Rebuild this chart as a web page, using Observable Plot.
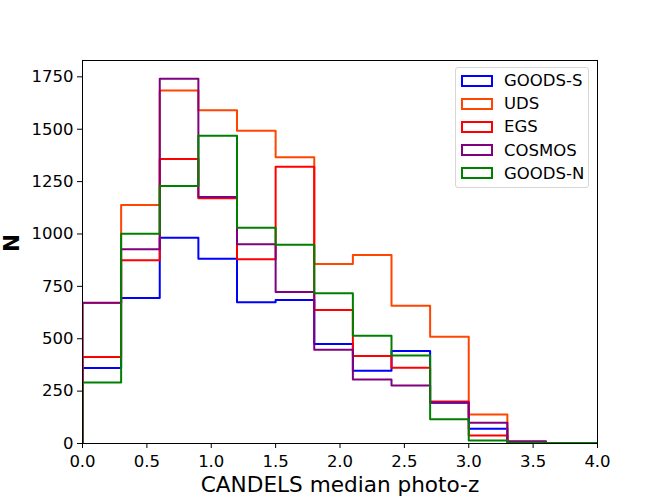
<!DOCTYPE html>
<html>
<head>
<meta charset="utf-8">
<script src="https://cdn.jsdelivr.net/npm/d3@7"></script>
<script src="https://cdn.jsdelivr.net/npm/@observablehq/plot@0.6"></script>
<style>
  html, body { margin: 0; padding: 0; background: #fff; }
  #wrap { position: relative; width: 664px; height: 498px; font-family: "DejaVu Sans", sans-serif; }
  #legend { position: absolute; left: 455px; top: 67px; width: 134px; height: 121px;
    border: 1px solid #d6d6d6; border-radius: 3px; background: rgba(255,255,255,0.8); box-sizing: border-box; }
  .item { position: absolute; left: 5px; height: 20px; display: flex; align-items: center;
    font-family: "DejaVu Sans", sans-serif; font-size: 16.5px; color: #000; white-space: nowrap; }
  .sw { display: inline-block; width: 32px; height: 12px; box-sizing: border-box; border: 2px solid; margin-right: 11px; }
</style>
</head>
<body>
<div id="wrap"></div>
<script>
const edges = [0, 0.3, 0.6, 0.9, 1.2, 1.5, 1.8, 2.1, 2.4, 2.7, 3.0, 3.3, 3.6, 3.9, 4.2];
const seriesNames = ["GOODS-S", "UDS", "EGS", "COSMOS", "GOODS-N"];
const seriesColors = ["#0000ff", "#ff4500", "#ff0000", "#800080", "#008000"];
const goodsS = [360, 695, 982, 882, 674, 685, 475, 347, 441, 194, 70, 4, 1, 0];
const uds    = [670, 1138, 1685, 1591, 1493, 1366, 857, 900, 658, 509, 138, 8, 1, 0];
const egs    = [413, 875, 1358, 1170, 879, 1321, 637, 418, 361, 200, 38, 3, 1, 0];
const cosmos = [672, 927, 1741, 1176, 951, 723, 447, 305, 277, 196, 99, 11, 1, 0];
const goodsN = [291, 1001, 1229, 1469, 1030, 949, 717, 514, 420, 116, 14, 3, 2, 2];
const seriesValues = [goodsS, uds, egs, cosmos, goodsN];
const xTicks = [0, 0.5, 1.0, 1.5, 2.0, 2.5, 3.0, 3.5, 4.0];
const yTicks = [0, 250, 500, 750, 1000, 1250, 1500, 1750];
const xLabel = "CANDELS median photo-z";
const yLabel = "N";

// build step outlines (matplotlib histtype="step")
const rows = [];
seriesNames.forEach((name, s) => {
  const vals = seriesValues[s];
  rows.push({series: name, x: edges[0], y: 0});
  vals.forEach((v, i) => rows.push({series: name, x: edges[i], y: v}));
  rows.push({series: name, x: edges[vals.length], y: vals[vals.length - 1]});
  rows.push({series: name, x: edges[vals.length], y: 0});
});

const plot = Plot.plot({
  width: 664,
  height: 498,
  marginLeft: 82,
  marginRight: 67,
  marginTop: 60,
  marginBottom: 55,
  style: {fontFamily: "DejaVu Sans, sans-serif", fontSize: "16.5px", color: "#000", background: "#fff"},
  x: {domain: [0, 4], label: null},
  y: {domain: [0, 1828], label: null},
  color: {domain: seriesNames, range: seriesColors},
  marks: [
    Plot.line(rows, {x: "x", y: "y", z: "series", stroke: "series", curve: "step-after", strokeWidth: 2, clip: true}),
    Plot.frame({stroke: "#000", strokeWidth: 1}),
    Plot.axisX({ticks: xTicks, tickFormat: d3.format(".1f"), tickSize: 5, tickPadding: 7, label: null, fontSize: 16.5}),
    Plot.axisY({ticks: yTicks, tickFormat: d => String(d), tickSize: 5, tickPadding: 4, label: null, fontSize: 16.5}),
    Plot.text([xLabel], {text: d => d, frameAnchor: "bottom", lineAnchor: "bottom", dy: 48, fontSize: 21.6}),
    Plot.text([yLabel], {text: d => d, frameAnchor: "left", dx: -70, rotate: -90, fontSize: 21.6, fontWeight: "bold"})
  ]
});

const wrap = document.getElementById("wrap");
wrap.appendChild(plot);

const legend = document.createElement("div");
legend.id = "legend";
seriesNames.forEach((name, i) => {
  const item = document.createElement("div");
  item.className = "item";
  item.style.top = (13.5 + i * 23.2 - 11) + "px";
  const sw = document.createElement("span");
  sw.className = "sw";
  sw.style.borderColor = seriesColors[i];
  const t = document.createElement("span");
  t.textContent = name;
  item.appendChild(sw);
  item.appendChild(t);
  legend.appendChild(item);
});
wrap.appendChild(legend);
</script>
</body>
</html>
